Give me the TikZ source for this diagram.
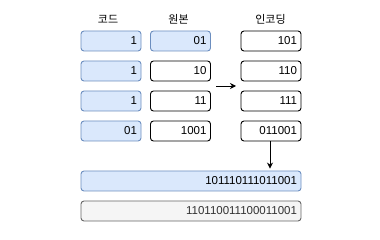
\documentclass[tikz,border=0pt]{standalone}
\usepackage{fontspec}
\setmainfont{Liberation Sans}
\newfontfamily\kr{Noto Sans CJK KR}
\usetikzlibrary{arrows.meta}
\definecolor{bfill}{HTML}{DAE8FC}
\definecolor{bline}{HTML}{6C8EBF}
\definecolor{gfill}{HTML}{F5F5F5}
\definecolor{gline}{HTML}{666666}
\definecolor{gtext}{HTML}{333333}
\begin{document}
\begin{tikzpicture}[x=1pt,y=-1pt,
  cell/.style={draw, rounded corners=3pt, line width=0.9pt, minimum height=20pt,
    text width=#1, align=right, inner xsep=4pt, inner ysep=0pt, font=\fontsize{11.5}{13}\selectfont},
  cell/.default=52pt,
  bluecell/.style={cell=#1, fill=bfill, draw=bline},
  bluecell/.default=52pt,
  whitecell/.style={cell=#1, fill=white, draw=black},
  whitecell/.default=52pt,
  graycell/.style={cell=#1, fill=gfill, draw=gline, text=gtext},
  hdr/.style={font=\kr\fontsize{11}{13}\selectfont, inner sep=0pt},
  arr/.style={-{Stealth[length=6pt,width=6pt]}, line width=0.9pt}]
\useasboundingbox (0,0) rectangle (380,240);
\node[hdr] (h1) at (108,19) {코드};
\node[hdr] (h2) at (178.5,19) {원본};
\node[hdr] (h3) at (270.5,19) {인코딩};
% row 1
\node[bluecell] (c1) at (111,41) {1};
\node[bluecell] (o1) at (180.5,41) {01};
\node[whitecell] (e1) at (271,41) {101};
% row 2
\node[bluecell] (c2) at (111,71) {1};
\node[whitecell] (o2) at (180.5,71) {10};
\node[whitecell] (e2) at (271,71) {110};
% row 3
\node[bluecell] (c3) at (111,101) {1};
\node[whitecell] (o3) at (180.5,101) {11};
\node[whitecell] (e3) at (271,101) {111};
% row 4
\node[bluecell] (c4) at (111,131) {01};
\node[whitecell] (o4) at (180.5,131) {1001};
\node[whitecell] (e4) at (271,131) {011001};
% bars
\node[bluecell=212pt] (bar) at (191,181) {101110111011001};
\node[graycell=212pt] (gbar) at (191,211) {110110011100011001};
% arrows
\coordinate (a1) at (216,86);
\coordinate (a2) at (236,86);
\draw[arr] (a1) -- (a2);
\draw[arr, shorten >=2pt] ([xshift=-1pt]e4.south) -- ([xshift=-1pt]e4.south |- bar.north);
\end{tikzpicture}
\end{document}
